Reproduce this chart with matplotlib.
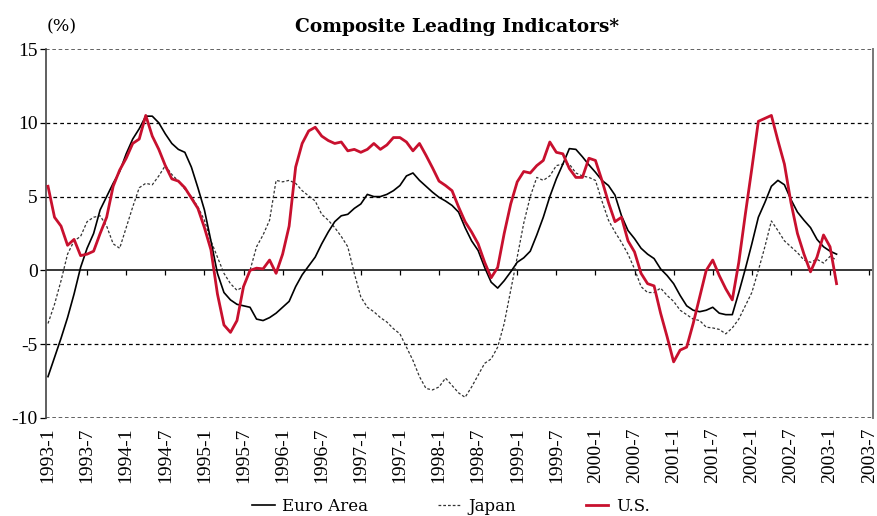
import numpy as np
import matplotlib
matplotlib.use("Agg")
import matplotlib.pyplot as plt

# monthly data, 1993-1 .. 2003-2
euro = [-7.2, -5.9, -4.6, -3.2, -1.6, 0.2, 1.5, 2.5, 4.1, 5.0, 5.9, 6.7,
        7.9, 8.9, 9.6, 10.45, 10.45, 10.0, 9.25, 8.6, 8.2, 8.0, 7.0, 5.6,
        4.1, 2.0, -0.2, -1.5, -2.0, -2.3, -2.4, -2.5, -3.3, -3.4, -3.2, -2.9,
        -2.5, -2.1, -1.1, -0.3, 0.3, 0.9, 1.8, 2.6, 3.3, 3.7, 3.8, 4.2,
        4.5, 5.15, 5.0, 5.0, 5.15, 5.4, 5.75, 6.4, 6.6, 6.1, 5.7, 5.3,
        4.95, 4.7, 4.4, 3.95, 2.9, 2.0, 1.35, 0.2, -0.8, -1.2, -0.7, -0.1,
        0.55, 0.85, 1.3, 2.4, 3.6, 5.0, 6.2, 7.2, 8.25, 8.2, 7.7, 7.15,
        6.65, 6.1, 5.75, 5.1, 3.7, 2.7, 2.15, 1.5, 1.1, 0.8, 0.1, -0.35,
        -0.9, -1.7, -2.4, -2.7, -2.8, -2.7, -2.5, -2.9, -3.0, -3.0, -1.5, 0.1,
        1.8, 3.6, 4.6, 5.7, 6.1, 5.8, 4.8, 3.95, 3.4, 2.9, 2.1, 1.6,
        1.3, 1.1]

japan = [-3.6, -2.3, -0.7, 1.1, 2.0, 2.3, 3.3, 3.6, 3.7, 3.0, 1.8, 1.5,
         2.9, 4.3, 5.6, 5.9, 5.8, 6.4, 7.1, 6.5, 6.05, 5.5, 5.0, 4.3,
         3.4, 2.0, 0.9, -0.2, -0.9, -1.35, -1.1, 0.0, 1.6, 2.4, 3.4, 6.1,
         6.0, 6.1, 5.9, 5.4, 5.05, 4.7, 3.8, 3.4, 2.9, 2.3, 1.6, -0.2,
         -1.8, -2.5, -2.8, -3.2, -3.5, -3.95, -4.3, -5.2, -6.1, -7.2, -8.0, -8.1,
         -7.9, -7.3, -7.8, -8.3, -8.6, -7.9, -7.1, -6.3, -6.0, -5.2, -3.6, -1.35,
         0.9, 3.2, 5.0, 6.3, 6.1, 6.4, 7.1, 7.2, 7.2, 6.6, 6.4, 6.3,
         6.1, 4.7, 3.4, 2.6, 1.9, 1.1, 0.1, -1.1, -1.5, -1.5, -1.2, -1.7,
         -2.1, -2.7, -3.0, -3.3, -3.4, -3.85, -3.9, -4.0, -4.3, -3.9, -3.3, -2.4,
         -1.5, 0.0, 1.6, 3.35, 2.7, 2.0, 1.6, 1.2, 0.7, 0.55, 0.75, 0.5,
         0.95, 0.7]

us = [5.7, 3.6, 3.0, 1.7, 2.1, 1.0, 1.1, 1.3, 2.5, 3.6, 5.7, 6.8,
      7.6, 8.6, 8.9, 10.5, 9.1, 8.2, 7.1, 6.2, 6.05, 5.6, 4.9, 4.2,
      2.9, 1.4, -1.6, -3.7, -4.2, -3.4, -1.1, 0.0, 0.15, 0.1, 0.7, -0.2,
      1.1, 3.0, 7.0, 8.6, 9.45, 9.7, 9.1, 8.8, 8.6, 8.7, 8.1, 8.2,
      8.0, 8.2, 8.6, 8.2, 8.5, 9.0, 9.0, 8.7, 8.1, 8.6, 7.8, 6.95,
      6.05, 5.75, 5.4, 4.3, 3.3, 2.6, 1.8, 0.55, -0.5, 0.2, 2.5, 4.5,
      6.0, 6.7, 6.6, 7.1, 7.45, 8.7, 8.0, 7.9, 6.9, 6.3, 6.3, 7.6,
      7.45, 6.1, 4.6, 3.3, 3.6, 2.0, 1.25, -0.2, -0.9, -1.05, -2.9, -4.5,
      -6.2, -5.4, -5.2, -3.6, -1.8, 0.0, 0.7, -0.35, -1.25, -2.0, 0.55, 3.8,
      6.9, 10.1, 10.3, 10.5, 8.8, 7.2, 4.6, 2.5, 1.1, -0.1, 0.9, 2.4,
      1.6, -0.9]

# tick labels as printed on the original (note the repeated 1997-1)
tick_labels = ["1993-1", "1993-7", "1994-1", "1994-7", "1995-1", "1995-7",
               "1996-1", "1996-7", "1997-1", "1997-1", "1998-1", "1998-7",
               "1999-1", "1999-7", "2000-1", "2000-7", "2001-1", "2001-7",
               "2002-1", "2002-7", "2003-1", "2003-7"]

months = np.arange(len(us))
tick_pos = np.arange(len(tick_labels)) * 6

plt.rcParams['font.family'] = ['Liberation Serif', 'DejaVu Serif']

fig = plt.figure(figsize=(8.77, 5.16), dpi=100)
ax = fig.add_axes([0.0525, 0.19, 0.943, 0.715])

red = '#C8102E'
ax.plot(months, euro, color='black', lw=1.2, label='Euro Area', zorder=3)
ax.plot(months, japan, color='#333333', lw=0.9, ls=(0, (2.2, 1.6)), label='Japan', zorder=2)
ax.plot(months, us, color=red, lw=2.0, label='U.S.', zorder=4)

ax.set_xlim(-0.3, 126.6)
ax.set_ylim(-10, 15)
ax.set_yticks([-10, -5, 0, 5, 10, 15])
ax.set_yticklabels(['-10', '-5', '0', '5', '10', '15'])

# dashed gridlines
for v in [-5, 5, 10]:
    ax.axhline(v, color='black', lw=0.9, ls=(0, (3, 2.5)), zorder=1)
for v in [-10, 15]:
    ax.axhline(v, color='#555555', lw=1.3, ls=(0, (2, 1.5)), zorder=1)
ax.axhline(0, color='black', lw=1.1, zorder=1)
# small tick marks hanging under the zero line
ax.plot(tick_pos[1:], np.zeros(len(tick_pos) - 1), ls='none', marker=3,
        ms=3.5, color='black', mew=0.9, zorder=1)

ax.set_xticks(tick_pos)
ax.set_xticklabels(tick_labels, rotation=90, fontsize=14)
ax.tick_params(axis='x', length=0, pad=7)
ax.tick_params(axis='y', length=4, width=0.9, labelsize=14, pad=2)

for s in ['top', 'bottom']:
    ax.spines[s].set_visible(False)
ax.spines['left'].set_color('#444444')
ax.spines['left'].set_linewidth(1.2)
ax.spines['right'].set_color('#777777')
ax.spines['right'].set_linewidth(1.4)

fig.text(0.053, 0.948, '(%)', fontsize=12.5, ha='left', va='center',
         family=['DejaVu Serif'])
fig.text(0.521, 0.947, 'Composite Leading Indicators*', fontsize=13.4,
         fontweight='bold', ha='center', va='center', family=['DejaVu Serif'])

fig.legend(loc='center', bbox_to_anchor=(0.514, 0.019), ncol=3,
           frameon=False, prop={'family': 'DejaVu Serif', 'size': 12},
           handlelength=1.35, columnspacing=4.2, handletextpad=0.45,
           borderaxespad=0, borderpad=0)

fig.savefig('out.png', dpi=100)
